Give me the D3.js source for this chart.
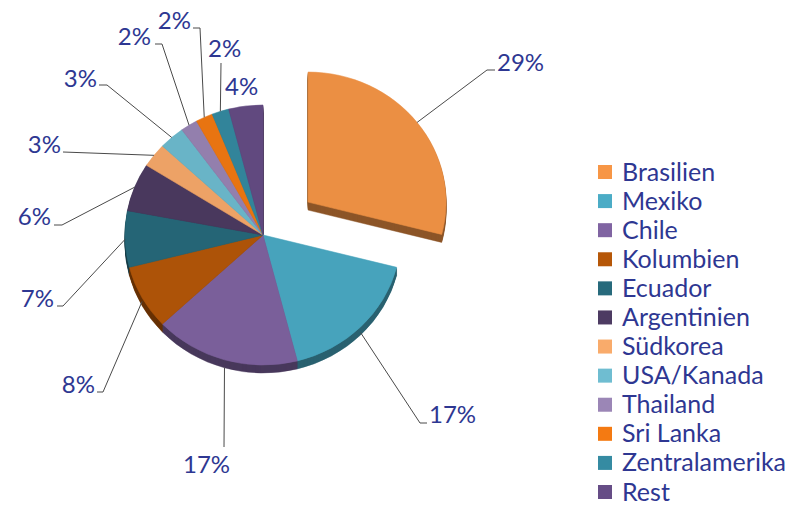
<!DOCTYPE html>
<html><head><meta charset="utf-8">
<script src="https://cdn.jsdelivr.net/npm/d3@7"></script>
<style>body{margin:0;background:#fff} svg{display:block}</style>
</head><body>
<svg id="chart" width="805" height="506"></svg>
<script>
const categories = ["Brasilien","Mexiko","Chile","Kolumbien","Ecuador","Argentinien","Südkorea","USA/Kanada","Thailand","Sri Lanka","Zentralamerika","Rest"];
const values = [29,17,17,8,7,6,3,3,2,2,2,4];
const colors = ["#F79646","#4BACC6","#8064A2","#B65708","#276A7C","#4D3B62","#F9AB6B","#6FBDD1","#9B86B6","#F47A12","#358BA2","#664D86"];
const valueLabels = values.map(v => v + "%");

// layout of data labels (leader line elbow/end, text anchor)
const labelLayout = [
  {elbow:[487,70], end:[495,70], tx:497, ty:71, anchor:"start"},
  {elbow:[420,423], end:[427,423], tx:429, ty:423, anchor:"start"},
  {elbow:[224,447], end:[224,447], tx:183, ty:473, anchor:"start"},
  {elbow:[103,392], end:[97,392], tx:95, ty:393, anchor:"end"},
  {elbow:[63,306], end:[57,306], tx:54, ty:307, anchor:"end"},
  {elbow:[62,225], end:[54,225], tx:51, ty:225, anchor:"end"},
  {elbow:[63,152], end:[63,152], tx:61, ty:153, anchor:"end"},
  {elbow:[107,85], end:[99,85], tx:97, ty:87, anchor:"end"},
  {elbow:[162,44], end:[155,44], tx:151, ty:45, anchor:"end"},
  {elbow:[200,28], end:[193,28], tx:191, ty:29, anchor:"end"},
  {elbow:[221,63], end:[221,63], tx:208, ty:57, anchor:"start"},
  {elbow:null, tx:225, ty:95, anchor:"start"}
];

const textColor = "#2E3792";
const font = "Lato, 'Open Sans', sans-serif";
const cx = 263, cy = 235, rx = 138, ry = 130, depth = 8, explode = 57;
const sy = ry / rx;

const svg = d3.select("#chart");
const arcs = d3.pie().sort(null).value(d => d)(values);
const arc = d3.arc().innerRadius(0).outerRadius(rx);

function off(d, i) {
  if (i !== 0) return [0, 0];
  const m = (d.startAngle + d.endAngle) / 2;
  return [Math.sin(m) * explode, -Math.cos(m) * explode * sy];
}

// side walls (stacked darker copies)
const sideG = svg.append("g");
for (let k = depth; k >= 1; k--) {
  arcs.forEach((d, i) => {
    const [ox, oy] = off(d, i);
    const c = d3.color(colors[i]).darker(1.6);
    sideG.append("path")
      .attr("d", arc(d))
      .attr("transform", `translate(${cx + ox},${cy + oy + k}) scale(1,${sy})`)
      .attr("fill", c).attr("stroke", c).attr("stroke-width", 0.5);
  });
}

// top faces
const topG = svg.append("g");
arcs.forEach((d, i) => {
  const [ox, oy] = off(d, i);
  const c = d3.interpolateRgb(colors[i], "#000")(0.05);
  topG.append("path")
    .attr("d", arc(d))
    .attr("transform", `translate(${cx + ox},${cy + oy}) scale(1,${sy})`)
    .attr("fill", c).attr("stroke", c).attr("stroke-width", 0.6);
});

// leader lines
const lineG = svg.append("g");
arcs.forEach((d, i) => {
  const L = labelLayout[i];
  if (!L.elbow) return;
  const [ox, oy] = off(d, i);
  const m = (d.startAngle + d.endAngle) / 2;
  const down = Math.max(0, -Math.cos(m)) * depth;
  const sx = cx + ox + Math.sin(m) * rx;
  const syy = cy + oy - Math.cos(m) * ry + down;
  lineG.append("polyline")
    .attr("points", [[sx, syy], L.elbow, L.end].map(p => p.join(",")).join(" "))
    .attr("fill", "none").attr("stroke", "#4a4a4a").attr("stroke-width", 1);
});

// labels
const labG = svg.append("g");
arcs.forEach((d, i) => {
  const L = labelLayout[i];
  labG.append("text")
    .attr("x", L.tx).attr("y", L.ty)
    .attr("text-anchor", L.anchor)
    .attr("font-family", font).attr("font-size", 24)
    .attr("fill", textColor)
    .text(valueLabels[i]);
});

// legend
const legY = d3.scalePoint().domain(categories).range([172, 492]);
const leg = svg.append("g");
categories.forEach((c, i) => {
  const y = legY(c);
  leg.append("rect").attr("x", 598).attr("y", y - 7).attr("width", 14).attr("height", 14)
    .attr("fill", colors[i]);
  leg.append("text").attr("x", 622).attr("y", y + 8.5)
    .attr("font-family", font).attr("font-size", 25)
    .attr("fill", textColor).text(c);
});
</script>
</body></html>
